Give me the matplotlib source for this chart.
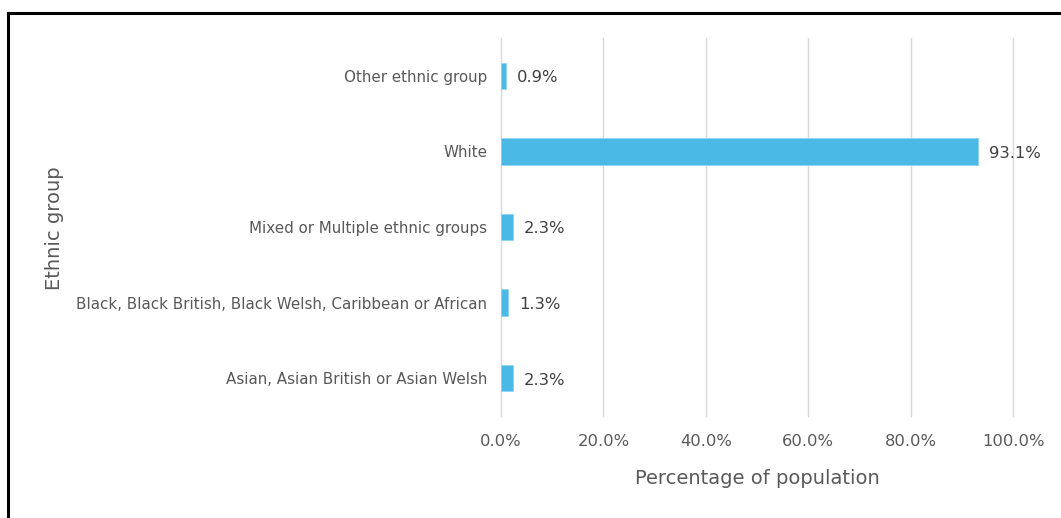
import matplotlib.pyplot as plt
from matplotlib.lines import Line2D
from matplotlib.ticker import FuncFormatter

categories = ['Asian, Asian British or Asian Welsh',
              'Black, Black British, Black Welsh, Caribbean or African',
              'Mixed or Multiple ethnic groups',
              'White',
              'Other ethnic group']
values = [2.3, 1.3, 2.3, 93.1, 0.9]
xticks = [0, 20, 40, 60, 80, 100]

plt.rcParams['font.family'] = ['DejaVu Sans']
grey = '#595959'
bar_col = '#4AB9E6'

W, H = 1061, 518
fig = plt.figure(figsize=(W / 100, H / 100), dpi=100)
ax = fig.add_axes([501 / W, 1 - 416 / H, (1013 - 501) / W, (416 - 38) / H])

pos = list(range(len(categories)))
ax.barh(pos, values, height=0.35, color=bar_col, edgecolor='#8fd3f0', linewidth=0.6, zorder=3)
for p, v in zip(pos, values):
    ax.text(v + 2.2, p - 0.025, f'{v:.1f}%', va='center', ha='left', fontsize=11.8, color='#404040')

ax.set_xlim(0, 100)
ax.set_ylim(-0.5, 4.5)
ax.set_xticks(xticks)
ax.xaxis.set_major_formatter(FuncFormatter(lambda x, _: f'{x:.1f}%'))
ax.set_yticks(pos)
ax.set_yticklabels(categories)
ax.grid(axis='x', color='#d9d9d9', linewidth=1, zorder=0)
for gl in ax.get_xgridlines():
    gl.set_clip_on(False)
for s in ax.spines.values():
    s.set_visible(False)
ax.tick_params(axis='both', length=0, colors=grey, labelsize=10.9)
ax.tick_params(axis='x', pad=13, labelsize=11.8)
ax.tick_params(axis='y', pad=10)
ax.set_xlabel('Percentage of population', fontsize=14, color=grey, labelpad=14)
fig.text(55 / W, 1 - 228 / H, 'Ethnic group', rotation=90, ha='center', va='center',
         fontsize=14, color=grey)

# border of the screenshot
fig.add_artist(Line2D([8 / W, 1.0], [1 - 13 / H, 1 - 13 / H], color='black', lw=2.2))
fig.add_artist(Line2D([8 / W, 8 / W], [1 - 13 / H, 0], color='black', lw=2.2))

fig.savefig('out.png', dpi=100)
